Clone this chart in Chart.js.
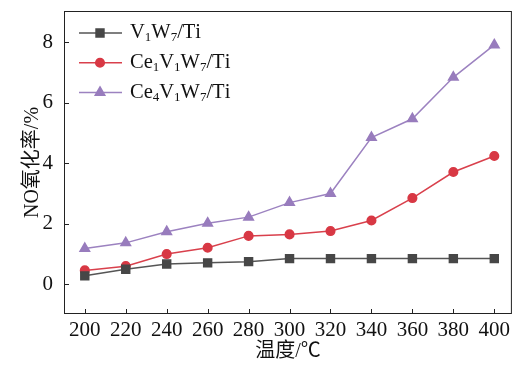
<!DOCTYPE html>
<html><head><meta charset="utf-8">
<script src="https://cdn.jsdelivr.net/npm/chart.js@4/dist/chart.umd.min.js"></script>
<style>html,body{margin:0;padding:0;background:#fff}#w{width:519px;height:365px}</style>
</head><body><div id="w"><canvas id="c"></canvas></div>
<script>
const temperatures = [200,220,240,260,280,300,320,340,360,380,400];
const seriesLabels = ["V₁W₇/Ti","Ce₁V₁W₇/Ti","Ce₄V₁W₇/Ti"];
const v1w7 = [0.28,0.50,0.67,0.71,0.75,0.85,0.85,0.85,0.85,0.85,0.85];
const ce1v1w7 = [0.46,0.60,1.00,1.21,1.60,1.65,1.76,2.11,2.85,3.71,4.24];
const ce4v1w7 = [1.18,1.37,1.74,2.02,2.22,2.70,3.00,4.85,5.47,6.84,7.91];
const xTicks = [200,220,240,260,280,300,320,340,360,380,400];
const yTicks = [0,2,4,6,8];
const xTitle = "温度/℃";
const yTitle = "NO氧化率/%";

const FONT = '"Liberation Serif","Noto Sans CJK SC",serif';
const mk = (vals)=>temperatures.map((t,i)=>({x:t,y:vals[i]}));
const noPad = s=>{s.paddingTop=0;s.paddingBottom=0;s.paddingLeft=0;s.paddingRight=0;};

const frame = {
  id:'frame',
  afterDraw(chart){
    const {ctx, chartArea:a, scales} = chart;
    ctx.save();
    ctx.strokeStyle = '#222'; ctx.lineWidth = 1;
    ctx.strokeRect(a.left+0.5, a.top+0.5, a.right-a.left-1, a.bottom-a.top-1);
    ctx.beginPath();
    scales.x.ticks.forEach(t=>{const px=Math.round(scales.x.getPixelForValue(t.value))+0.5; ctx.moveTo(px,a.bottom); ctx.lineTo(px,a.bottom-5);});
    scales.y.ticks.forEach(t=>{const py=Math.round(scales.y.getPixelForValue(t.value))+0.5; ctx.moveTo(a.left,py); ctx.lineTo(a.left+5,py);});
    ctx.stroke();
    const ds = chart.data.datasets;
    ds.forEach((d,i)=>{
      const y = 33 + i*29.7;
      ctx.strokeStyle = d.borderColor; ctx.lineWidth = 1.5;
      ctx.beginPath(); ctx.moveTo(79,y); ctx.lineTo(122,y); ctx.stroke();
      ctx.fillStyle = d.pointBackgroundColor; ctx.strokeStyle=d.pointBackgroundColor;
      Chart.helpers.drawPoint(ctx,{pointStyle:d.pointStyle,radius:d.pointRadius,borderWidth:1},100,y);
      let x = 130;
      ctx.fillStyle = '#111'; ctx.textBaseline='middle'; ctx.textAlign='left';
      for (const ch of d.label){
        const code = ch.codePointAt(0);
        if (code>=0x2080 && code<=0x2089){
          ctx.font = '13px '+FONT;
          const s = String(code-0x2080);
          ctx.fillText(s,x,y+5); x += ctx.measureText(s).width;
        } else {
          ctx.font = '20.5px '+FONT;
          ctx.fillText(ch,x,y); x += ctx.measureText(ch).width;
        }
      }
    });
    ctx.restore();
  }
};

new Chart(document.getElementById('c'),{
  type:'line',
  data:{datasets:[
    {label:seriesLabels[0],data:mk(v1w7),borderColor:'#555555',backgroundColor:'#474747',pointBackgroundColor:'#474747',pointBorderColor:'#474747',pointStyle:'rect',pointRadius:5.6,borderWidth:1.5},
    {label:seriesLabels[1],data:mk(ce1v1w7),borderColor:'#d9404c',backgroundColor:'#d83844',pointBackgroundColor:'#d83844',pointBorderColor:'#d83844',pointStyle:'circle',pointRadius:4.3,borderWidth:1.5},
    {label:seriesLabels[2],data:mk(ce4v1w7),borderColor:'#9c82c0',backgroundColor:'#987cbd',pointBackgroundColor:'#987cbd',pointBorderColor:'#987cbd',pointStyle:'triangle',pointRadius:5.5,borderWidth:1.5}
  ]},
  options:{
    responsive:true, maintainAspectRatio:false, animation:false,
    layout:{padding:{top:11,right:3,left:0,bottom:0}},
    plugins:{legend:{display:false},tooltip:{enabled:false}},
    scales:{
      x:{type:'linear',min:189.84,max:408.6,
        afterBuildTicks:s=>{s.ticks=xTicks.map(v=>({value:v}));},
        afterFit:s=>{s.height=51;noPad(s);},
        grid:{display:false,drawTicks:false},border:{display:false},
        ticks:{color:'#111',padding:4,font:{family:FONT,size:21},autoSkip:false,maxRotation:0},
        title:{display:true,text:xTitle,color:'#111',font:{family:FONT,size:20,lineHeight:1.0},padding:{top:0,bottom:3}}},
      y:{type:'linear',min:-0.98,max:9.03,
        afterBuildTicks:s=>{s.ticks=yTicks.map(v=>({value:v}));},
        afterFit:s=>{s.width=64;noPad(s);},
        grid:{display:false,drawTicks:false},border:{display:false},
        ticks:{color:'#111',padding:11,font:{family:FONT,size:21}},
        title:{display:true,text:yTitle,color:'#111',font:{family:FONT,size:20},padding:{top:21,bottom:0}}}
    }
  },
  plugins:[frame]
});
</script></body></html>
